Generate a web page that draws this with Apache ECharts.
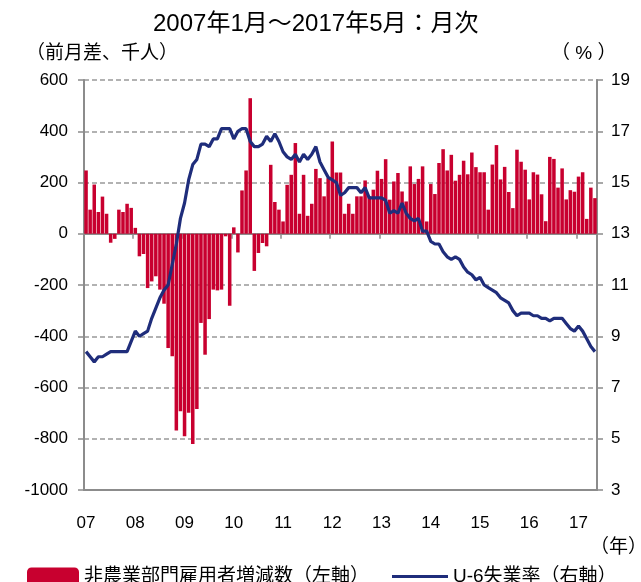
<!DOCTYPE html>
<html>
<head>
<meta charset="utf-8">
<script src="https://cdn.jsdelivr.net/npm/echarts@6/dist/echarts.min.js"></script>
<style>
html,body{margin:0;padding:0;background:#fff;}
#c{width:641px;height:582px;}
</style>
</head>
<body>
<div id="c"></div>
<script>
// Years and tick labels
const years = [2007,2008,2009,2010,2011,2012,2013,2014,2015,2016,2017];
const yearLabels = ['07','08','09','10','11','12','13','14','15','16','17'];

// Nonfarm payroll change (thousands), monthly, by year
const nfp2007 = [247, 94, 192, 85, 145, 78, -35, -20, 94, 85, 117, 101];
const nfp2008 = [23, -88, -79, -212, -186, -166, -218, -273, -446, -478, -768, -693];
const nfp2009 = [-790, -699, -820, -684, -348, -472, -333, -218, -221, -218, -10, -281];
const nfp2010 = [25, -73, 169, 247, 529, -145, -75, -36, -49, 269, 124, 94];
const nfp2011 = [48, 191, 230, 354, 78, 230, 70, 117, 253, 217, 146, 217];
const nfp2012 = [360, 239, 239, 78, 117, 78, 146, 146, 208, 146, 172, 246];
const nfp2013 = [214, 291, 133, 204, 237, 165, 126, 263, 194, 214, 263, 48];
const nfp2014 = [194, 155, 276, 330, 247, 308, 207, 230, 285, 232, 317, 260];
const nfp2015 = [240, 240, 94, 270, 346, 212, 261, 163, 100, 328, 281, 250];
const nfp2016 = [134, 240, 231, 154, 49, 300, 292, 180, 255, 134, 170, 164];
const nfp2017 = [223, 240, 58, 180, 139];

// U-6 unemployment rate (%), monthly, by year
const u62007 = [8.4, 8.2, 8.0, 8.2, 8.2, 8.3, 8.4, 8.4, 8.4, 8.4, 8.4, 8.8];
const u62008 = [9.2, 9.0, 9.1, 9.2, 9.7, 10.1, 10.5, 10.8, 11.0, 11.8, 12.6, 13.6];
const u62009 = [14.2, 15.1, 15.7, 15.9, 16.5, 16.5, 16.4, 16.7, 16.7, 17.1, 17.1, 17.1];
const u62010 = [16.7, 17.0, 17.1, 17.1, 16.6, 16.4, 16.4, 16.5, 16.8, 16.6, 16.9, 16.6];
const u62011 = [16.2, 16.0, 15.9, 16.1, 15.8, 16.1, 15.9, 16.1, 16.4, 15.8, 15.5, 15.2];
const u62012 = [15.1, 15.0, 14.5, 14.6, 14.8, 14.8, 14.8, 14.6, 14.8, 14.4, 14.4, 14.4];
const u62013 = [14.4, 14.3, 13.8, 13.9, 13.8, 14.2, 13.8, 13.6, 13.5, 13.6, 13.1, 13.1];
const u62014 = [12.7, 12.6, 12.6, 12.3, 12.1, 12.0, 12.1, 12.0, 11.7, 11.5, 11.4, 11.2];
const u62015 = [11.3, 11.0, 10.9, 10.8, 10.7, 10.5, 10.4, 10.3, 10.0, 9.8, 9.9, 9.9];
const u62016 = [9.9, 9.8, 9.8, 9.7, 9.7, 9.6, 9.7, 9.7, 9.7, 9.5, 9.3, 9.2];
const u62017 = [9.4, 9.2, 8.9, 8.6, 8.4];

const nfp = [].concat(nfp2007, nfp2008, nfp2009, nfp2010, nfp2011, nfp2012, nfp2013, nfp2014, nfp2015, nfp2016, nfp2017);
const u6 = [].concat(u62007, u62008, u62009, u62010, u62011, u62012, u62013, u62014, u62015, u62016, u62017);

const categories = [];
years.forEach(function (y, yi) {
  for (let m = 1; m <= 12; m++) {
    if (categories.length < nfp.length) categories.push(yearLabels[yi] + '-' + m);
  }
});

const FONT = '"Liberation Sans", Arial, "Noto Sans CJK JP", sans-serif';
const AXIS_COLOR = '#8c8c8c';

const chart = echarts.init(document.getElementById('c'), null, {renderer: 'canvas'});
chart.setOption({
  animation: false,
  textStyle: {fontFamily: FONT, color: '#000'},
  title: {
    text: '2007年1月～2017年5月：月次',
    left: 148, top: 7,
    textStyle: {fontFamily: FONT, fontSize: 24, fontWeight: 'normal', color: '#000'}
  },
  graphic: [
    {type: 'text', left: 26, top: 44, style: {text: '（前月差、千人）', font: '19px ' + FONT, fill: '#000'}},
    {type: 'text', left: 551, top: 44, style: {text: '（ % ）', font: '19px ' + FONT, fill: '#000'}},
    {type: 'text', left: 590, top: 538, style: {text: '（年）', font: '19px ' + FONT, fill: '#000'}}
  ],
  legend: [
    {
      data: ['非農業部門雇用者増減数（左軸）'],
      left: 22, top: 562, itemWidth: 52, itemHeight: 18, itemGap: 0,
      textStyle: {fontFamily: FONT, fontSize: 19, color: '#000'},
      selectedMode: false
    },
    {
      data: [{name: 'U-6失業率（右軸）', icon: 'rect'}],
      left: 387, top: 562, itemWidth: 56, itemHeight: 3,
      textStyle: {fontFamily: FONT, fontSize: 19, color: '#000'},
      selectedMode: false
    }
  ],
  grid: {left: 84, right: 44, top: 80, bottom: 92},
  xAxis: [
    {
      type: 'category', data: categories, boundaryGap: true,
      axisLine: {onZero: true, onZeroAxisIndex: 0, lineStyle: {color: AXIS_COLOR, width: 2}},
      axisTick: {show: true, interval: 11, length: 5, lineStyle: {color: AXIS_COLOR, width: 1.5}},
      axisLabel: {show: false},
      splitLine: {show: false}
    },
    {
      type: 'category', data: categories, boundaryGap: true, position: 'bottom',
      axisLine: {onZero: false, lineStyle: {color: AXIS_COLOR, width: 2}},
      axisTick: {show: false},
      axisLabel: {
        show: true, interval: 11, margin: 25,
        fontSize: 17, color: '#000', fontFamily: FONT,
        formatter: function (v) { return v.split('-')[0]; }
      },
      splitLine: {show: false}
    }
  ],
  yAxis: [
    {
      type: 'value', min: -1000, max: 600, interval: 200, position: 'left',
      axisLine: {show: true, lineStyle: {color: AXIS_COLOR, width: 2}},
      axisTick: {show: true, length: 6, lineStyle: {color: AXIS_COLOR, width: 1.5}},
      axisLabel: {fontSize: 17, color: '#000', margin: 16, fontFamily: FONT,
        formatter: function (v) { return String(v); }},
      splitLine: {show: true, lineStyle: {color: '#999', width: 1.5, type: [5, 3]}}
    },
    {
      type: 'value', min: 3, max: 19, interval: 2, position: 'right',
      axisLine: {show: true, lineStyle: {color: AXIS_COLOR, width: 2}},
      axisTick: {show: true, length: 6, lineStyle: {color: AXIS_COLOR, width: 1.5}},
      axisLabel: {fontSize: 17, color: '#000', margin: 14, fontFamily: FONT},
      splitLine: {show: false}
    }
  ],
  series: [
    {
      name: '非農業部門雇用者増減数（左軸）',
      type: 'bar', xAxisIndex: 0, yAxisIndex: 0,
      data: nfp, barCategoryGap: '14%',
      itemStyle: {color: '#C8002F'},
      z: 2
    },
    {
      name: 'U-6失業率（右軸）',
      type: 'line', xAxisIndex: 0, yAxisIndex: 1,
      data: u6, symbol: 'none', showSymbol: false,
      lineStyle: {color: '#1F2D7B', width: 3.2},
      itemStyle: {color: '#1F2D7B'},
      z: 5
    }
  ]
});
</script>
</body>
</html>
